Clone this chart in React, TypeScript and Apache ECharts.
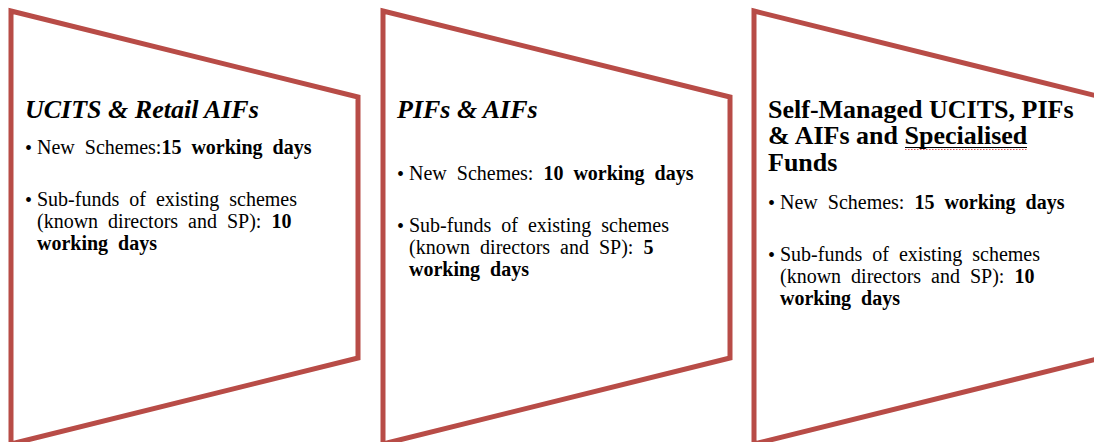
import React, { useEffect, useRef } from "react";
import * as echarts from "echarts";

// ---- content ----
const titles = [
  "UCITS & Retail AIFs",
  "PIFs & AIFs",
  "Self-Managed UCITS, PIFs\n& AIFs and Specialised\nFunds",
];
const titleItalic = [true, true, false];
const newSchemeLabels = ["New Schemes:", "New Schemes: ", "New Schemes: "];
const newSchemeDays = [15, 10, 15];
const subFundLine1 = "Sub-funds of existing schemes";
const subFundLine2 = "(known directors and SP): ";
const subFundDays = [10, 5, 10];
const daysUnit = "working days";

// ---- layout ----
const W = 1094;
const H = 442;
const panelLeft = [11, 383, 754];
const panelWidth = 347;
const topY = 11;
const rightTop = 97;
const rightBottom = 358;
const bottomY = 444;
const titleTop = [96, 96, 96];
const newTop = [136, 162, 191];
const subTop = [188, 214, 243];
const textX = [25, 397, 768];
const border = "#B84C47";
const FONT = "'Liberation Serif', 'Times New Roman', serif";
const BODY = 20;
const LH = 21.8;

// widen inter-word gaps (the source text is justified)
const sp = (s: string) => s.replace(/ /g, "\u2002");

export default function App() {
  const ref = useRef<HTMLDivElement>(null);
  useEffect(() => {
    if (!ref.current) return;
    const chart = echarts.init(ref.current, null, { renderer: "svg" });
    const graphic: any[] = [];
    titles.forEach((t, i) => {
      const x0 = panelLeft[i];
      const x1 = x0 + panelWidth;
      graphic.push({
        type: "polygon",
        shape: {
          points: [
            [x0, topY],
            [x1, rightTop],
            [x1, rightBottom],
            [x0, bottomY],
          ],
        },
        style: { fill: "#fff", stroke: border, lineWidth: 5, lineJoin: "miter" },
      });
      graphic.push({
        type: "text",
        style: {
          x: textX[i],
          y: titleTop[i],
          text: t,
          fontFamily: FONT,
          fontSize: 26,
          fontWeight: "bold",
          fontStyle: titleItalic[i] ? "italic" : "normal",
          lineHeight: 26.5,
          fill: "#000",
          verticalAlign: "top",
        },
      });
      const bx = textX[i];
      const tx = textX[i] + 12;
      [newTop[i], subTop[i]].forEach((yy) => {
        graphic.push({
          type: "text",
          style: {
            x: bx,
            y: yy + LH / 2 + 1,
            text: "•",
            fontFamily: FONT,
            fontSize: 20,
            fill: "#000",
            verticalAlign: "middle",
          },
        });
      });
      const rich = {
        n: { fontFamily: FONT, fontSize: BODY, lineHeight: LH, fill: "#000" },
        b: { fontFamily: FONT, fontSize: BODY, lineHeight: LH, fontWeight: "bold", fill: "#000" },
      };
      graphic.push({
        type: "text",
        style: {
          x: tx,
          y: newTop[i],
          text: `{n|${sp(newSchemeLabels[i])}}{b|${sp(newSchemeDays[i] + " " + daysUnit)}}`,
          rich,
          verticalAlign: "top",
        },
      });
      graphic.push({
        type: "text",
        style: {
          x: tx,
          y: subTop[i],
          text: `{n|${sp(subFundLine1)}}\n{n|${sp(subFundLine2)}}{b|${subFundDays[i]}}\n{b|${sp(daysUnit)}}`,
          rich,
          verticalAlign: "top",
        },
      });
    });
    // underline of "Specialised"
    graphic.push({
      type: "line",
      shape: { x1: 905, y1: 147.5, x2: 1027, y2: 147.5 },
      style: { stroke: "#000", lineWidth: 1.2 },
    });
    graphic.push({
      type: "line",
      shape: { x1: 905, y1: 149.5, x2: 1027, y2: 149.5 },
      style: { stroke: "#E03030", lineWidth: 0.8, lineDash: [1.5, 1.5] },
    });
    chart.setOption({ animation: false, graphic });
    return () => chart.dispose();
  }, []);
  return (
    <div
      ref={ref}
      style={{ position: "fixed", left: 0, top: 0, width: W, height: H, background: "#fff" }}
    />
  );
}
